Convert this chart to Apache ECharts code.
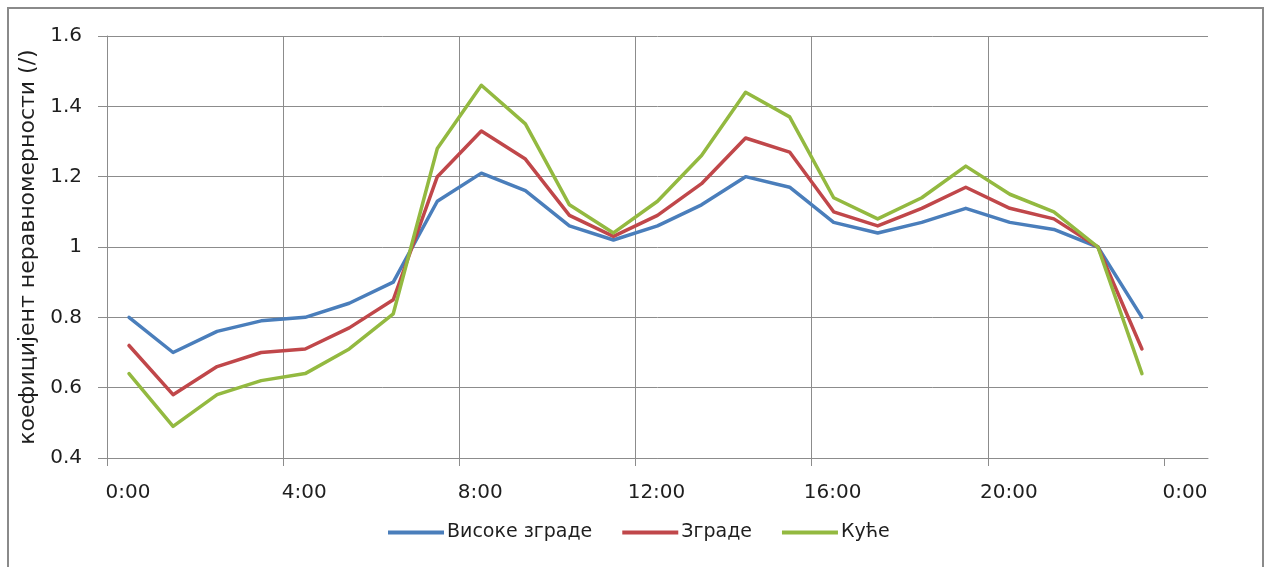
<!DOCTYPE html>
<html>
<head>
<meta charset="utf-8">
<script src="https://cdn.jsdelivr.net/npm/echarts@6/dist/echarts.min.js"></script>
<style>
  html, body { margin: 0; padding: 0; background: #fff; }
  #chart { width: 1266px; height: 567px; }
</style>
</head>
<body>
<div id="chart"></div>
<script>
// Hour of day (middle of each hourly interval)
const hours = [0.5, 1.5, 2.5, 3.5, 4.5, 5.5, 6.5, 7.5, 8.5, 9.5, 10.5, 11.5,
               12.5, 13.5, 14.5, 15.5, 16.5, 17.5, 18.5, 19.5, 20.5, 21.5, 22.5, 23.5];

// Hourly non-uniformity coefficients
const visokeZgrade = [0.80, 0.70, 0.76, 0.79, 0.80, 0.84, 0.90, 1.13, 1.21, 1.16, 1.06, 1.02,
                      1.06, 1.12, 1.20, 1.17, 1.07, 1.04, 1.07, 1.11, 1.07, 1.05, 1.00, 0.80];
const zgrade       = [0.72, 0.58, 0.66, 0.70, 0.71, 0.77, 0.85, 1.20, 1.33, 1.25, 1.09, 1.03,
                      1.09, 1.18, 1.31, 1.27, 1.10, 1.06, 1.11, 1.17, 1.11, 1.08, 1.00, 0.71];
const kuce         = [0.64, 0.49, 0.58, 0.62, 0.64, 0.71, 0.81, 1.28, 1.46, 1.35, 1.12, 1.04,
                      1.13, 1.26, 1.44, 1.37, 1.14, 1.08, 1.14, 1.23, 1.15, 1.10, 1.00, 0.64];

const seriesNames = ['Високе зграде', 'Зграде', 'Куће'];
const seriesColors = ['#4a7ebb', '#c0474a', '#93b940'];

// Time-axis ticks (hours) and y-axis title
const xTicks = [0, 4, 8, 12, 16, 20, 24];
const yTitle = 'коефицијент неравномерности (/)';

const FONT = '"DejaVu Sans", "Noto Sans", sans-serif';
const GRID = '#8c8c8c';
const TEXT = '#1e1e1e';

const pair = arr => hours.map((h, i) => [h, arr[i]]);

const chart = echarts.init(document.getElementById('chart'), null, { renderer: 'canvas' });

chart.setOption({
  animation: false,
  backgroundColor: '#fff',
  textStyle: { fontFamily: FONT },
  graphic: [{
    type: 'rect',
    shape: { x: 8, y: 8, width: 1255, height: 600 },
    style: { fill: 'none', stroke: '#8a8a8a', lineWidth: 2 },
    silent: true
  }],
  grid: { left: 107, right: 58, top: 36, bottom: 109 },
  legend: {
    data: seriesNames,
    left: 388,
    top: 523,
    padding: 0,
    icon: 'rect',
    itemWidth: 56,
    itemHeight: 4,
    itemGap: 30,
    textStyle: { fontFamily: FONT, fontSize: 19, color: TEXT, padding: [0, 0, 0, -2] }
  },
  xAxis: {
    type: 'value',
    min: 0,
    max: 25,
    interval: 4,
    axisLine: { show: true, lineStyle: { color: GRID, width: 1 } },
    axisTick: { show: true, length: 8, inside: false, customValues: xTicks,
                lineStyle: { color: GRID, width: 1 } },
    splitLine: { show: true, showMaxLine: false, lineStyle: { color: GRID, width: 1 } },
    axisLabel: {
      customValues: xTicks,
      margin: 25,
      fontSize: 20,
      color: TEXT,
      fontFamily: FONT,
      padding: [0, 0, 0, 42],
      formatter: v => (v % 24) + ':00'
    }
  },
  yAxis: {
    type: 'value',
    min: 0.4,
    max: 1.6,
    interval: 0.2,
    name: yTitle,
    nameLocation: 'middle',
    nameGap: 63,
    nameTextStyle: { fontFamily: FONT, fontSize: 22, color: TEXT },
    axisLine: { show: true, lineStyle: { color: GRID, width: 1 } },
    axisTick: { show: true, length: 9, inside: false, lineStyle: { color: GRID, width: 1 } },
    splitLine: { show: true, lineStyle: { color: GRID, width: 1 } },
    axisLabel: { margin: 25, fontSize: 20, color: TEXT, fontFamily: FONT }
  },
  series: [visokeZgrade, zgrade, kuce].map((arr, i) => ({
    name: seriesNames[i],
    type: 'line',
    data: pair(arr),
    showSymbol: false,
    symbol: 'none',
    color: seriesColors[i],
    lineStyle: { width: 3.5, color: seriesColors[i], cap: 'round', join: 'round' }
  }))
});
</script>
</body>
</html>
